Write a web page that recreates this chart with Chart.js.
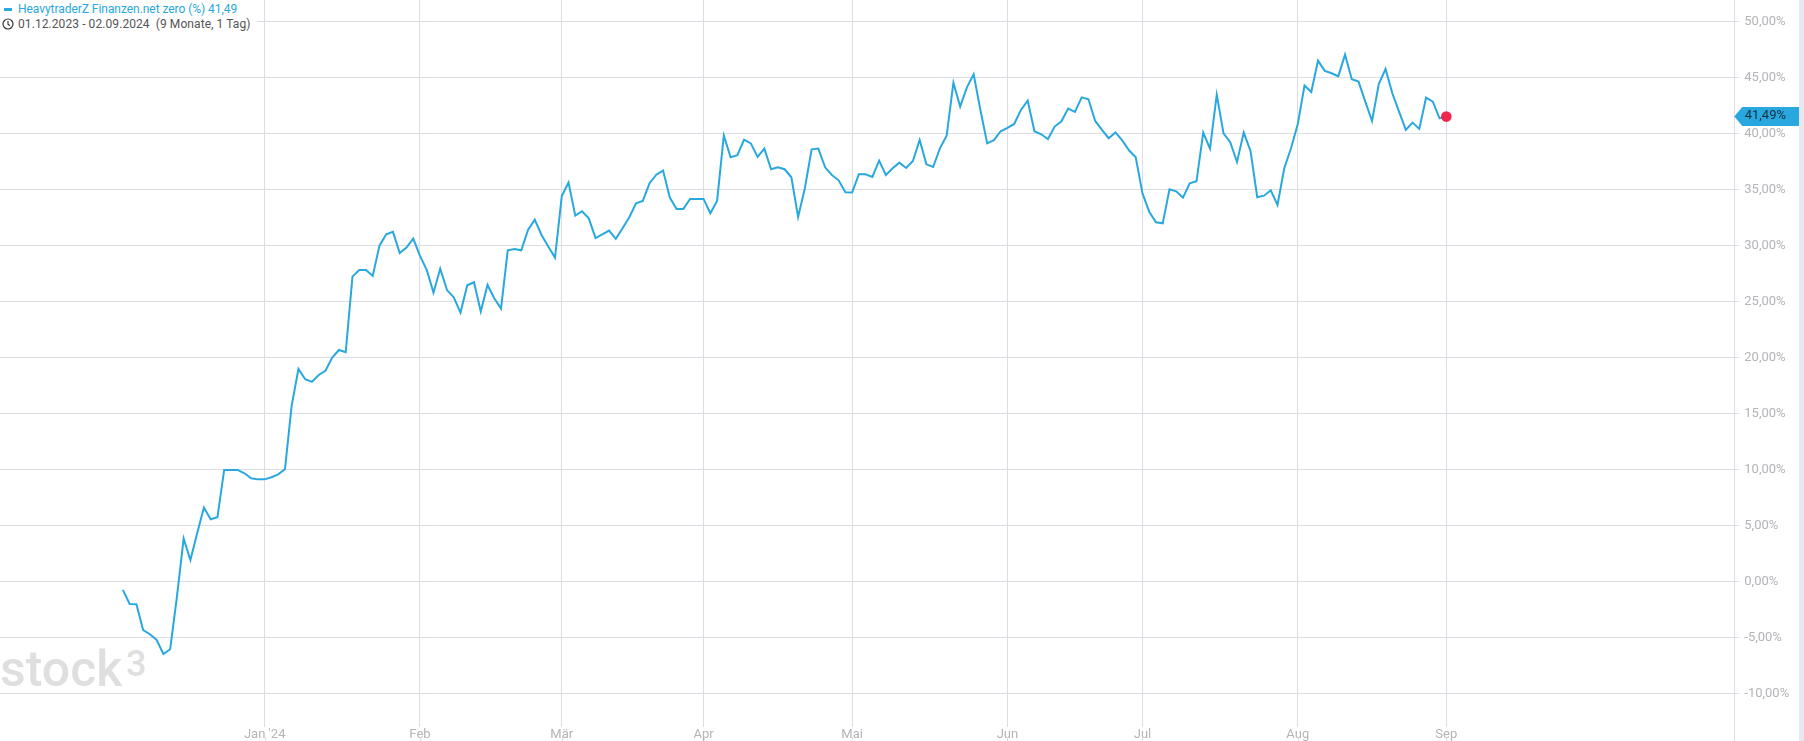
<!DOCTYPE html>
<html lang="de">
<head>
<meta charset="utf-8">
<title>HeavytraderZ Finanzen.net zero</title>
<script src="https://cdn.jsdelivr.net/npm/chart.js@4"></script>
<style>
  html, body { margin: 0; padding: 0; background: #fff; overflow: hidden; }
  #wrap { position: relative; width: 1804px; height: 741px; font-family: Roboto, sans-serif; }
  #chart { position: absolute; left: 0; top: 0; z-index: 1; }
  #band { position: absolute; left: 1799px; top: 0; width: 5px; height: 741px; background: #e7e9f2; z-index: 2; }
  #legend { position: absolute; left: 0; top: 0; width: 257px; height: 32px; background: #fff; z-index: 2; font-size: 12px; }
  #legend div { position: absolute; white-space: pre; line-height: 16px; }
  #legend .name { left: 18px; top: 1px; color: #29a8e0; letter-spacing: -0.05px; }
  #legend .dash { left: 4px; top: 8px; width: 8px; height: 3px; background: #29a8e0; }
  #legend .range { left: 18px; top: 16px; color: #555; letter-spacing: 0.08px; }
  #legend svg { position: absolute; left: 2px; top: 18px; }
  .mark { position: absolute; color: #dfdfdf; line-height: 1; z-index: 0; font-weight: 500; }
</style>
</head>
<body>
<div id="wrap">
  <span class="mark" id="markWord" style="left:0;top:644px;font-size:50px;">stock</span>
  <span class="mark" id="markNum" style="left:126px;top:646px;font-size:36px;">3</span>
  <canvas id="chart" width="1804" height="741"></canvas>
  <div id="band"></div>
  <div id="legend">
    <div class="dash"></div>
    <div class="name">HeavytraderZ Finanzen.net zero (%) 41,49</div>
    <svg width="12" height="12" viewBox="0 0 12 12"><circle cx="6" cy="6" r="5" fill="none" stroke="#333" stroke-width="1.2"/><path d="M6 3v3.2l2 1.6" fill="none" stroke="#333" stroke-width="1.1"/></svg>
    <div class="range">01.12.2023 - 02.09.2024  (9 Monate, 1 Tag)</div>
  </div>
</div>
<script>
// DATA (performance in %, one value per trading day)
const seriesValues = [
  -0.77, -2.02, -2.05, -4.35, -4.73, -5.24, -6.49, -6.07, -1.4, 3.81,
  1.9, 4.29, 6.58, 5.54, 5.71, 9.94, 9.94, 9.94, 9.64, 9.2,
  9.1, 9.1, 9.29, 9.55, 10.0, 15.7, 18.96, 18.04, 17.8, 18.42,
  18.8, 19.97, 20.65, 20.45, 27.2, 27.8, 27.8, 27.26, 29.97, 30.98,
  31.2, 29.3, 29.8, 30.6, 29.05, 27.8, 25.77, 27.9, 26.0, 25.36,
  23.99, 26.43, 26.7, 24.08, 26.46, 25.27, 24.35, 29.55, 29.67, 29.55,
  31.37, 32.29, 30.92, 29.9, 28.9, 34.4, 35.6, 32.65, 33.04, 32.4,
  30.65, 30.98, 31.31, 30.57, 31.52, 32.5, 33.75, 33.96, 35.54, 36.3,
  36.67, 34.26, 33.24, 33.24, 34.14, 34.14, 34.14, 32.86, 33.96, 39.8,
  37.86, 38.04, 39.43, 39.1, 37.89, 38.63, 36.79, 36.96, 36.79, 36.07,
  32.53, 35.09, 38.57, 38.63, 36.96, 36.28, 35.8, 34.74, 34.72, 36.34,
  36.34, 36.1, 37.56, 36.28, 36.88, 37.38, 36.9, 37.53, 39.4, 37.23,
  36.99, 38.66, 39.79, 44.52, 42.38, 44.1, 45.27, 42.08, 39.1, 39.38,
  40.18, 40.48, 40.83, 42.08, 42.92, 40.18, 39.91, 39.49, 40.6, 41.07,
  42.2, 41.9, 43.21, 43.04, 41.1, 40.3, 39.56, 40.08, 39.36, 38.48,
  37.86, 34.64, 33.0, 32.05, 31.96, 35.0, 34.82, 34.26, 35.54, 35.71,
  40.06, 38.63, 43.45, 40.0, 39.2, 37.44, 40.06, 38.42, 34.29, 34.43,
  34.91, 33.6, 36.88, 38.66, 40.83, 44.26, 43.69, 46.49, 45.57, 45.36,
  45.09, 47.02, 44.82, 44.61, 42.83, 41.1, 44.4, 45.74, 43.57, 41.93,
  40.3, 40.95, 40.39, 43.18, 42.83, 41.34, 41.49
];

const xTickIndexes = [21, 44, 65, 86, 108, 131, 151, 174, 196];
const xTickLabels = ["Jan '24", "Feb", "Mär", "Apr", "Mai", "Jun", "Jul", "Aug", "Sep"];
const yTickValues = [50, 45, 40, 35, 30, 25, 20, 15, 10, 5, 0, -5, -10];
const lastLabel = "41,49%";

const LINE_COLOR = "#29a8e0";
const GRID_COLOR = "#dcdde6";
const TEXT_COLOR = "#b4b4b9";

// AXIS LINE, BOTTOM TICKS AND LAST VALUE TAG
const axisExtras = {
  id: "axisExtras",
  afterDraw(chart) {
    const { ctx, scales, chartArea } = chart;
    const axisX = Math.round(chartArea.right) + 0.5;

    ctx.save();
    ctx.strokeStyle = GRID_COLOR;
    ctx.lineWidth = 1;
    ctx.beginPath();
    ctx.moveTo(axisX, chartArea.bottom);
    ctx.lineTo(axisX, chart.height);
    xTickIndexes.forEach((i) => {
      const px = Math.round(scales.x.getPixelForValue(i)) + 0.5;
      ctx.moveTo(px, chart.height - 4);
      ctx.lineTo(px, chart.height);
    });
    ctx.stroke();

    const lastValue = seriesValues[seriesValues.length - 1];
    const y = scales.y.getPixelForValue(lastValue);
    ctx.fillStyle = LINE_COLOR;
    ctx.beginPath();
    ctx.moveTo(chartArea.right, y);
    ctx.lineTo(chartArea.right + 8, y - 9.5);
    ctx.lineTo(1799, y - 9.5);
    ctx.lineTo(1799, y + 9.5);
    ctx.lineTo(chartArea.right + 8, y + 9.5);
    ctx.closePath();
    ctx.fill();

    ctx.fillStyle = "#12303f";
    ctx.font = "13px Roboto";
    ctx.textAlign = "left";
    ctx.textBaseline = "middle";
    ctx.fillText(lastLabel, chartArea.right + 10.4, y - 1);
    ctx.restore();
  },
};

new Chart(document.getElementById("chart"), {
  type: "line",
  data: {
    datasets: [
      {
        data: seriesValues.map((v, i) => ({ x: i, y: v })),
        borderColor: LINE_COLOR,
        borderWidth: 2,
        tension: 0,
        pointRadius: (ctx) => (ctx.dataIndex === seriesValues.length - 1 ? 5.3 : 0),
        pointBackgroundColor: "#f0274b",
        pointBorderWidth: 0,
      },
    ],
  },
  options: {
    responsive: false,
    animation: false,
    events: [],
    layout: { padding: 0, autoPadding: false },
    plugins: { legend: { display: false }, tooltip: { enabled: false } },
    scales: {
      x: {
        type: "linear",
        min: -18.2,
        max: 238.65,
        afterBuildTicks: (scale) => {
          scale.ticks = xTickIndexes.map((i) => ({ value: i }));
        },
        afterFit: (scale) => {
          scale.height = 14;
          scale.paddingLeft = 0;
          scale.paddingRight = 0;
        },
        grid: { color: GRID_COLOR, drawTicks: false },
        border: { display: false },
        ticks: {
          color: TEXT_COLOR,
          font: { family: "Roboto", size: 13 },
          padding: 0,
          maxRotation: 0,
          autoSkip: false,
          callback: (value) => xTickLabels[xTickIndexes.indexOf(value)],
        },
      },
      y: {
        position: "right",
        min: -13.01,
        max: 51.9,
        afterBuildTicks: (scale) => {
          scale.ticks = yTickValues.map((v) => ({ value: v }));
        },
        afterFit: (scale) => {
          scale.width = 69.7;
          scale.paddingTop = 0;
          scale.paddingBottom = 0;
        },
        grid: { color: GRID_COLOR, tickLength: 5 },
        border: { color: GRID_COLOR },
        ticks: {
          color: TEXT_COLOR,
          font: { family: "Roboto", size: 13 },
          padding: 5,
          autoSkip: false,
          callback: (value) => `${value},00%`,
        },
      },
    },
  },
  plugins: [axisExtras],
});
</script>
</body>
</html>
